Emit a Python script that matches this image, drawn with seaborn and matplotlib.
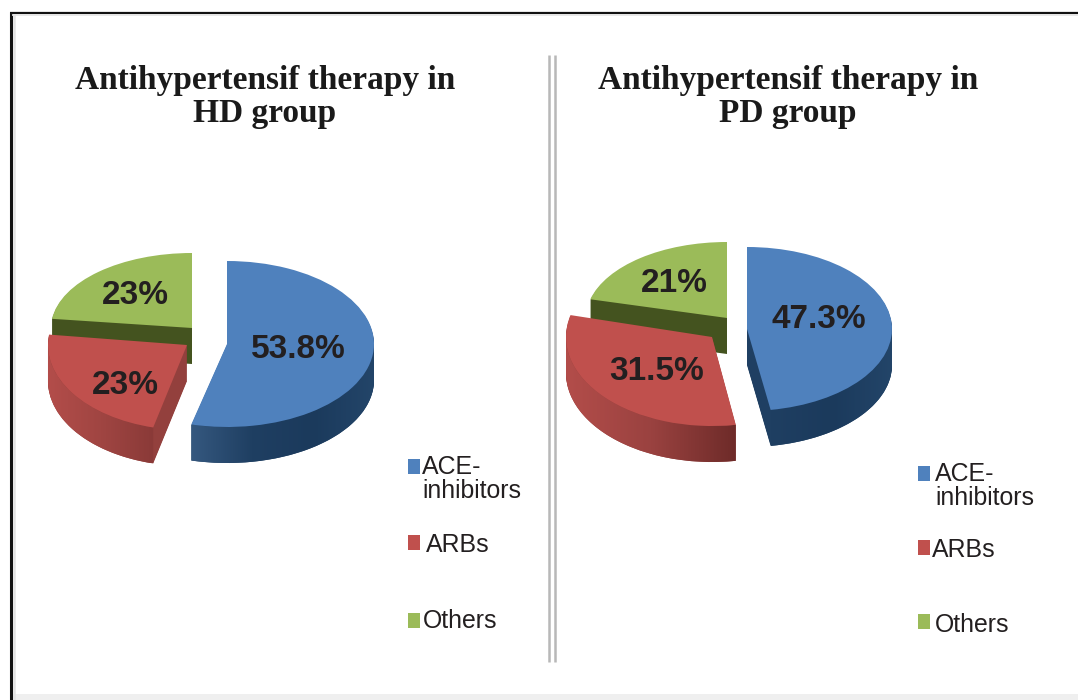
import numpy as np
import seaborn as sns
import matplotlib.pyplot as plt
from matplotlib.colors import LinearSegmentedColormap
from matplotlib.patches import PathPatch, Rectangle
from matplotlib.path import Path
from matplotlib.transforms import Affine2D

categories = ["ACE-\ninhibitors", "ARBs", "Others"]
hd_values = [53.8, 23, 23]
pd_values = [47.3, 31.5, 21]
hd_labels = ["53.8%", "23%", "23%"]
pd_labels = ["47.3%", "31.5%", "21%"]
hd_title = "Antihypertensif therapy in\nHD group"
pd_title = "Antihypertensif therapy in\nPD group"

sns.set_theme(style="white")
top_colors = sns.color_palette(["#4f81bd", "#c0504d", "#9bbb59"])
side_colors = sns.color_palette(["#1f3f62", "#93403d", "#44531f"])
hd_ramps = [
    ["#35587f", "#1f3f62", "#1b3a5c", "#234569"],
    ["#b34d4a", "#a04542", "#8a3a38"],
    ["#44531f", "#44531f"],
]
pd_ramps = [
    ["#1f3f62", "#1b3a5c", "#234569"],
    ["#b34d4a", "#9a4240", "#6e2b29"],
    ["#44531f", "#44531f"],
]
depth = 36

# slice geometry in pixels: centre x, centre y, radius x, radius y
hd_geom = [(227, 344, 147, 83), (187, 345, 139, 85), (192, 328, 141, 75)]
pd_geom = [(747, 329, 145, 82), (712, 337, 146, 89), (727, 318, 141, 76)]

fig = plt.figure(figsize=(10.78, 7), dpi=100, facecolor="white")
ax = fig.add_axes([0, 0, 1, 1])


def place(wedge, geom, shift):
    cx, cy, rx, ry = geom
    wedge.set_transform(Affine2D().scale(rx, -ry).translate(cx, cy + shift) + ax.transData)


def draw_pie(values, geoms, ramps):
    # back to front: others, ARBs, ACE
    for i, z in zip(range(3), [30, 20, 10]):
        for level in range(depth, 0, -1):
            wedges, _ = ax.pie(values, colors=side_colors, startangle=90, counterclock=False)
            for j, w in enumerate(wedges):
                if j == i:
                    place(w, geoms[j], level)
                    w.set_zorder(z)
                    w.set_linewidth(0)
                else:
                    w.remove()
    wedges, _ = ax.pie(values, colors=top_colors, startangle=90, counterclock=False)
    for i, (w, z) in enumerate(zip(wedges, [30, 20, 10])):
        place(w, geoms[i], 0)
        w.set_zorder(z + 2)
        w.set_linewidth(0)
        cx, cy, rx, ry = geoms[i]
        t = np.radians(np.linspace(w.theta1, w.theta2, 300))
        t = t[np.sin(t) <= 0]
        if len(t) < 2:
            continue
        xs = cx + rx * np.cos(t)
        ys = cy - ry * np.sin(t)
        pts = np.vstack([np.c_[xs, ys], np.c_[xs, ys + depth][::-1]])
        band = PathPatch(Path(np.vstack([pts, pts[0]]), closed=True), transform=ax.transData)
        cmap = LinearSegmentedColormap.from_list("side", ramps[i])
        im = ax.imshow(np.linspace(0, 1, 256)[None, :], cmap=cmap, aspect="auto",
                       extent=(xs.min(), xs.max(), ys.max() + depth, ys.min()), zorder=z + 1)
        im.set_clip_path(band)


draw_pie(hd_values, hd_geom, hd_ramps)
draw_pie(pd_values, pd_geom, pd_ramps)

ax.set_xlim(0, 1078)
ax.set_ylim(700, 0)
ax.set_aspect("auto")
ax.axis("off")

# percent labels
label_font = dict(family="Liberation Sans", weight="bold", size=24, color="#231f20",
                  ha="center", va="center", zorder=50)
for text, x, y in zip(hd_labels, [298, 125, 135], [349, 385, 295]):
    ax.text(x, y, text, **label_font)
for text, x, y in zip(pd_labels, [819, 657, 674], [320, 371, 283]):
    ax.text(x, y, text, **label_font)

# titles
title_font = dict(family="Liberation Serif", weight="bold", size=24, color="#1a1a1a",
                  ha="center", va="center", linespacing=1.05)
ax.text(265, 97, hd_title, **title_font)
ax.text(788, 97, pd_title, **title_font)

# legends
for left, xs, ys, boxes in [
    (408, [422, 426, 423], [479, 545, 621], [466, 542, 620]),
    (918, [935, 932, 935], [486, 550, 625], [473, 547, 621]),
]:
    for c, name, x, y, b in zip(top_colors, categories, xs, ys, boxes):
        ax.add_patch(Rectangle((left, b - 7.5), 11.5, 15, color=c, lw=0))
        ax.text(x, y, name, family="Liberation Sans", size=17.9, color="#231f20",
                ha="left", va="center", linespacing=1.05)

# divider and picture frame
for x in [548.5, 554.5]:
    ax.plot([x, x], [55, 662], color="#b8b8b8", lw=1.8, solid_capstyle="butt")
ax.plot([10.5, 10.5], [12, 700], color="#111111", lw=2.2, solid_capstyle="butt")
ax.plot([10, 1078], [12.5, 12.5], color="#111111", lw=1.6, solid_capstyle="butt")
ax.plot([13.5, 13.5], [14, 700], color="#e2e2e2", lw=1.8, solid_capstyle="butt")
ax.plot([12, 1078], [15, 15], color="#e4e4e4", lw=1.2, solid_capstyle="butt")
ax.add_patch(Rectangle((12, 694), 1066, 6, color="#efefef", lw=0))

fig.savefig("out.png", dpi=100)
